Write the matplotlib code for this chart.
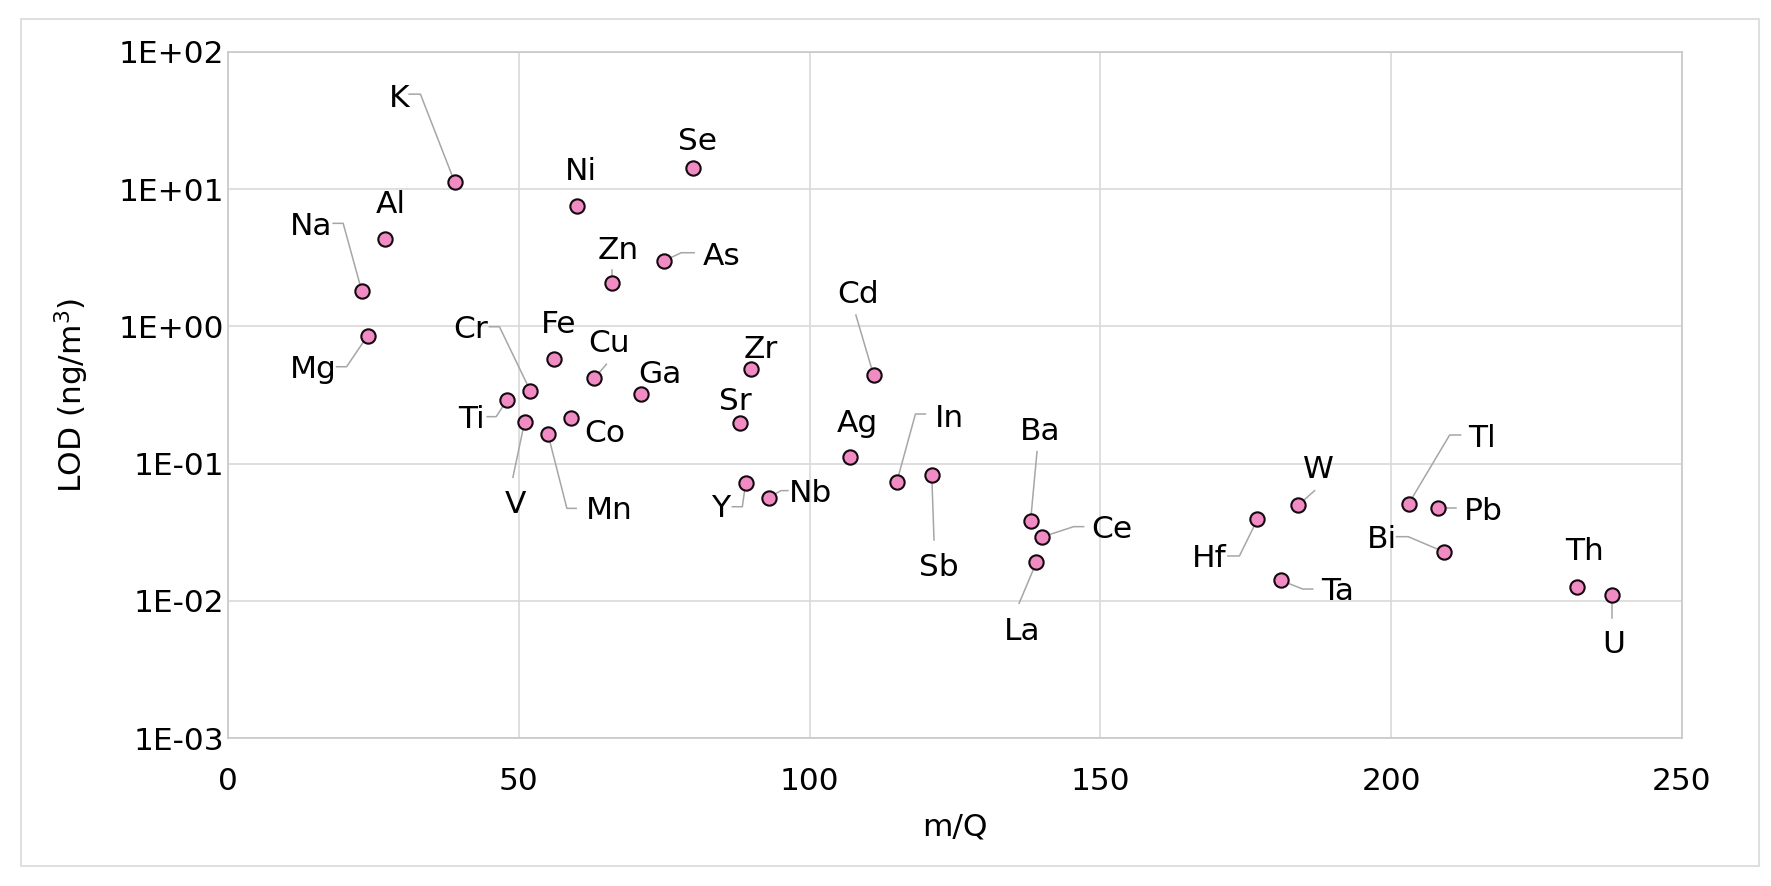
import matplotlib
matplotlib.use("Agg")
import matplotlib.pyplot as plt
import matplotlib.transforms as mtransforms
from matplotlib.lines import Line2D
from matplotlib.patches import Rectangle
from matplotlib.ticker import FixedLocator, FuncFormatter, NullLocator

# ---------------- data ----------------
elements = ['Na', 'Mg', 'Al', 'K', 'Ti', 'V', 'Cr', 'Mn', 'Fe', 'Co', 'Ni', 'Cu',
            'Zn', 'Ga', 'As', 'Se', 'Sr', 'Y', 'Zr', 'Nb', 'Ag', 'Cd', 'In', 'Sb',
            'Ba', 'La', 'Ce', 'Hf', 'Ta', 'W', 'Tl', 'Pb', 'Bi', 'Th', 'U']
mass = [23, 24, 27, 39, 48, 51, 52, 55, 56, 59, 60, 63,
        66, 71, 75, 80, 88, 89, 90, 93, 107, 111, 115, 121,
        138, 139, 140, 177, 181, 184, 203, 208, 209, 232, 238]
lod = [1.81, 0.855, 4.31, 11.2, 0.291, 0.202, 0.338, 0.165, 0.578, 0.216, 7.55, 0.419,
       2.07, 0.320, 3.01, 14.2, 0.197, 0.0718, 0.487, 0.0565, 0.1117, 0.442, 0.0738, 0.0826,
       0.0384, 0.0191, 0.0292, 0.0393, 0.0141, 0.0497, 0.0510, 0.0472, 0.0228, 0.01254, 0.01107]
x_ticks = [0, 50, 100, 150, 200, 250]
y_ticks = [1e-3, 1e-2, 1e-1, 1e0, 1e1, 1e2]
x_label = 'm/Q'
y_label = 'LOD (ng/m$^3$)'

# ------------- label layout (pixel offsets from the point: right, down) -------------
LAYOUT = {
    'Na': ((-51, -67.7), [(-28.6, -67.7), (-18.6, -67.7)]),
    'Mg': ((-54.3, 31), [(-31, 31), (-21, 31)]),
    'Al': ((5.3, -37.6), []),
    'K':  ((-56, -87), [(-45.7, -88.3), (-34.4, -88.3)]),
    'Ti': ((-35.7, 16.7), [(-20, 16.7), (-11, 16.7)]),
    'V':  ((-8.7, 80), [(-11.7, 55.6)]),
    'Cr': ((-60, -64.3), [(-41, -64.3), (-31, -64.3)]),
    'Mn': ((61.3, 74), [(28.3, 74.6), (19, 74.6)]),
    'Fe': ((5, -37.3), []),
    'Co': ((33.4, 13), []),
    'Ni': ((4.4, -37.7), []),
    'Cu': ((14.4, -37.3), [(12, -14)]),
    'Zn': ((6, -35.3), [(0, -13)]),
    'Ga': ((19, -22.6), []),
    'As': ((57.3, -7.4), [(30, -8), (17, -8)]),
    'Se': ((4.4, -30), []),
    'Sr': ((-4.7, -25), []),
    'Y':  ((-25, 21.7), [(-13.3, 23.4), (-3.3, 23.4)]),
    'Zr': ((9, -22.6), []),
    'Nb': ((41.7, -7), [(19, -7), (12, -7)]),
    'Ag': ((6.7, -37), []),
    'Cd': ((-15.4, -83.3), [(-17.7, -60)]),
    'In': ((52.6, -66.7), [(28.6, -67.7), (18.6, -67.7)]),
    'Sb': ((6.7, 90), [(2.3, 65)]),
    'Ba': ((9.7, -92.4), [(6.4, -69)]),
    'La': ((-14.3, 66), [(-17.3, 41)]),
    'Ce': ((69.7, -10.3), [(41.4, -10.3), (31.4, -10.3)]),
    'Hf': ((-48.6, 36.7), [(-29.6, 36.7), (-18, 36.7)]),
    'Ta': ((57, 8), [(32, 8.7), (22, 8.7)]),
    'W':  ((20.7, -38.6), [(16.4, -14.6)]),
    'Tl': ((73, -68.7), [(52, -68.7), (41, -68.7)]),
    'Pb': ((45.4, 0), [(18.7, 0)]),
    'Bi': ((-62, -15), [(-47, -15), (-35.3, -15)]),
    'Th': ((7, -39), []),
    'U':  ((1.7, 47), [(0, 23.6)]),
}

# ---------------- style ----------------
DPI = 100
FS = 22.5
PINK = '#F08CC3'
EDGE = '#14080f'
LEADER = '#a6a6a6'
GRID = '#d9d9d9'
SPINE = '#c8c8c8'
plt.rcParams['font.family'] = ['DejaVu Sans']

fig = plt.figure(figsize=(17.71, 8.86), dpi=DPI)
ax = fig.add_axes([0.12874, 0.16704, 0.82101, 0.77427])

ax.set_yscale('log')
ax.plot(mass, lod, linestyle='none', marker='o', ms=10.3, mfc=PINK, mec=EDGE,
        mew=1.5, zorder=5, clip_on=False)
ax.set_xlim(x_ticks[0], x_ticks[-1])
ax.set_ylim(y_ticks[0], y_ticks[-1])

ax.xaxis.set_major_locator(FixedLocator(x_ticks))
ax.yaxis.set_major_locator(FixedLocator(y_ticks))
ax.yaxis.set_minor_locator(NullLocator())
ax.xaxis.set_minor_locator(NullLocator())
ax.yaxis.set_major_formatter(FuncFormatter(lambda v, p: f"{v:.0E}"))
ax.xaxis.set_major_formatter(FuncFormatter(lambda v, p: f"{v:g}"))

ax.tick_params(axis='both', length=0, labelsize=FS, colors='black')
ax.tick_params(axis='x', pad=21)
ax.tick_params(axis='y', pad=3)

ax.grid(True, which='major', color=GRID, lw=1.2)
ax.set_axisbelow(True)
for s in ax.spines.values():
    s.set_color(SPINE)
    s.set_linewidth(1.2)

ax.set_xlabel(x_label, fontsize=FS, labelpad=12)
ax.set_ylabel(y_label, fontsize=FS)
ax.yaxis.set_label_coords(-0.094, 0.5)

# labels and leader lines
for el, x, y in zip(elements, mass, lod):
    (tx, ty), verts = LAYOUT[el]
    ax.annotate(el, xy=(x, y), xytext=(tx * 72 / DPI, -(ty + 3) * 72 / DPI),
                textcoords='offset points', ha='center', va='center',
                fontsize=FS, color='black', zorder=6)
    if verts:
        pts = list(verts) + [(0, 0)]
        xs = [p[0] for p in pts]
        ys = [-p[1] for p in pts]
        tr = mtransforms.Affine2D().scale(fig.dpi / DPI) + \
            mtransforms.ScaledTranslation(x, y, ax.transData)
        ax.add_artist(Line2D(xs, ys, transform=tr, color=LEADER, lw=1.1,
                             zorder=4, clip_on=False))

# outer chart border
fig.patches.append(Rectangle((0.01186, 0.02257), 0.98136, 0.95599,
                             transform=fig.transFigure, fill=False,
                             ec=GRID, lw=1.2))

fig.savefig('out.png', dpi=DPI)
